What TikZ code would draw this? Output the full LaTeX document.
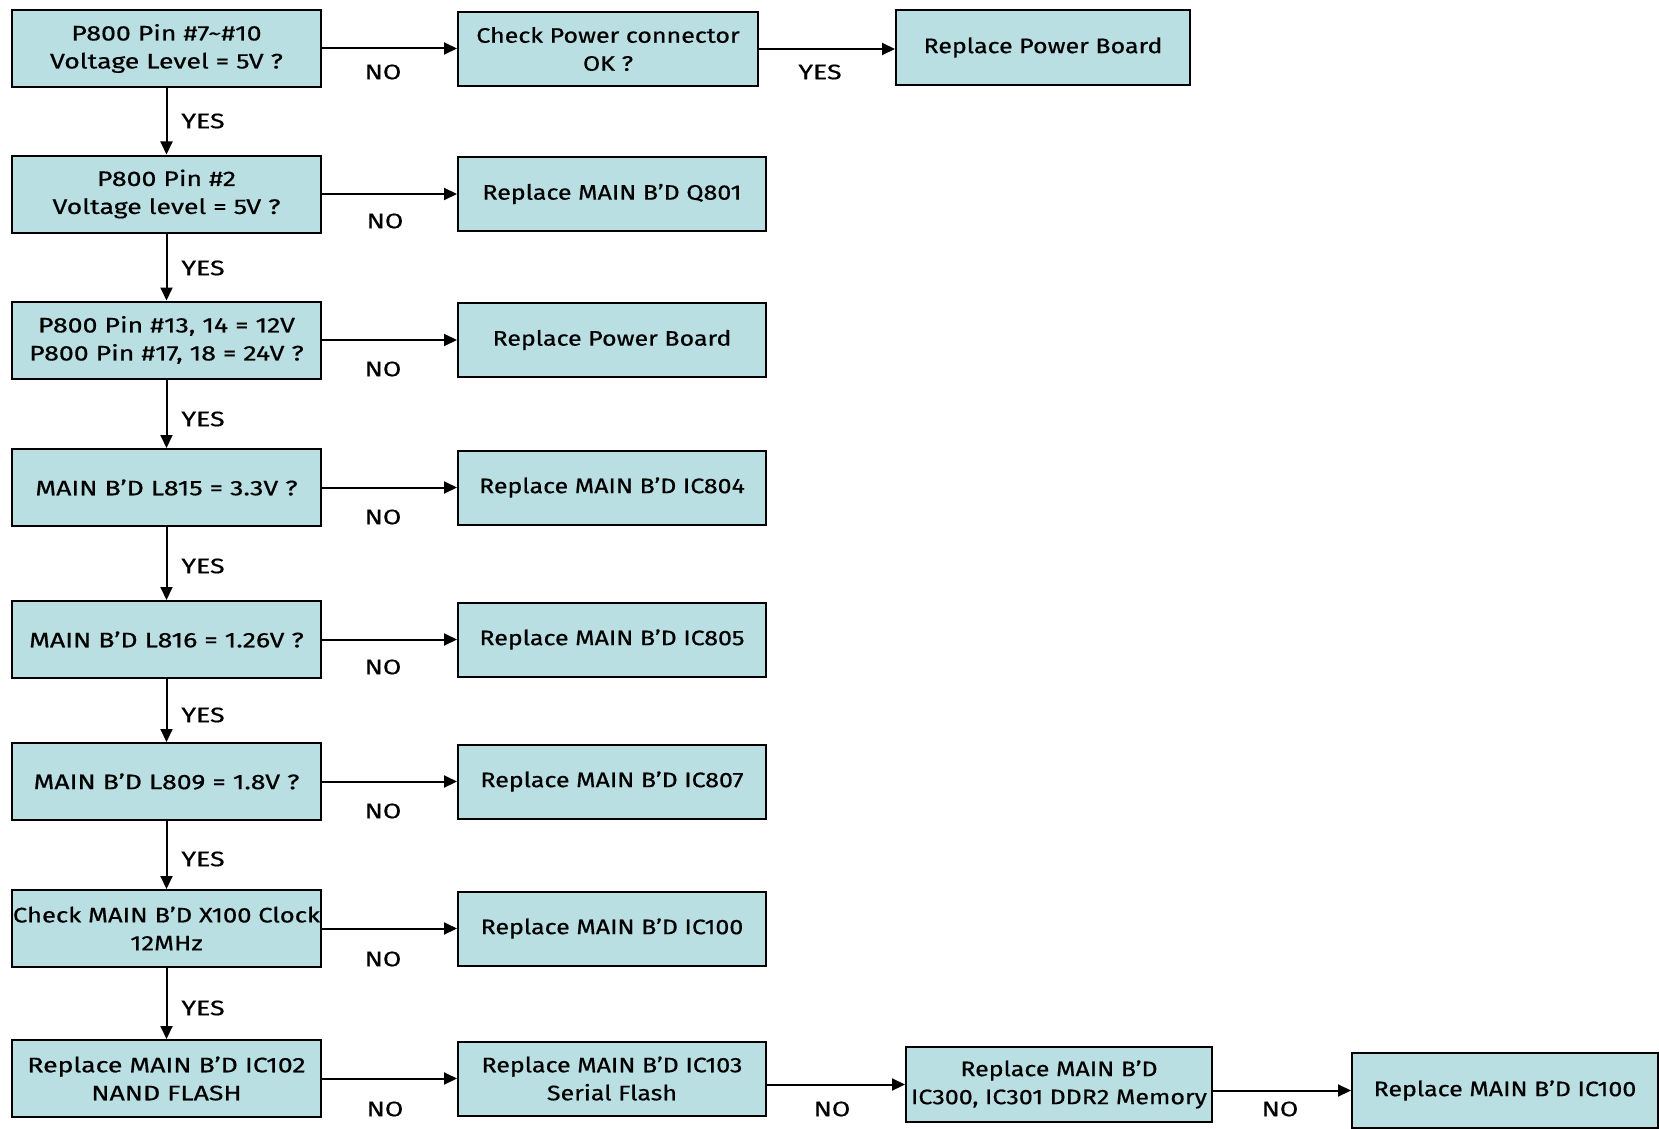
\documentclass[tikz,border=0pt]{standalone}
\usepackage{fontspec}
\setmainfont{Fira Sans}
\newfontfamily\lfont{Fira Sans}[FakeStretch=1.27, FakeBold=0.6]
\newfontfamily\cfont{Fira Sans}[FakeStretch=1.22, FakeBold=0.6]
\newfontfamily\rfont{Fira Sans}[FakeStretch=1.19, FakeBold=0.6]
\usetikzlibrary{arrows.meta}
\definecolor{boxfill}{RGB}{185,223,227}
\tikzset{
  box/.style={draw=black, fill=boxfill, line width=2pt, inner sep=0pt, align=center,
    font=\rfont\fontsize{21}{28}\selectfont},
  lbox/.style={box, minimum width=309pt, minimum height=77pt, font=\lfont\fontsize{21}{28}\selectfont},
  rbox/.style={box, minimum width=308pt, minimum height=74pt},
  conn/.style={line width=2pt, -{Triangle[length=13pt,width=12pt]}},
  lab/.style={font=\lfont\fontsize{21}{25}\selectfont, inner sep=0pt}
}
\begin{document}
\begin{tikzpicture}[x=1pt,y=-1pt]
\useasboundingbox (0,0) rectangle (1659,1129);
% left column
\node[lbox] (l1) at (166.5,48.5) {P800 Pin \#7\textasciitilde\#10\\Voltage Level = 5V ?};
\node[lbox] (l2) at (166.5,194) {P800 Pin \#2\\Voltage level = 5V ?};
\node[lbox] (l3) at (166.5,340) {P800 Pin \#13, 14 = 12V\\P800 Pin \#17, 18 = 24V ?};
\node[lbox] (l4) at (166.5,487.5) {MAIN B’D L815 = 3.3V ?};
\node[lbox] (l5) at (166.5,639.5) {MAIN B’D L816 = 1.26V ?};
\node[lbox] (l6) at (166.5,781.5) {MAIN B’D L809 = 1.8V ?};
\node[lbox, font=\cfont\fontsize{21}{28}\selectfont] (l7) at (166.5,928.5) {Check MAIN B’D X100 Clock\\12MHz};
\node[lbox] (l8) at (166.5,1078.5) {Replace MAIN B’D IC102\\NAND FLASH};
% second column
\node[box, minimum width=300pt, minimum height=74pt] (r1) at (608,49) {Check Power connector\\OK ?};
\node[rbox] (r2) at (612,194) {Replace MAIN B’D Q801};
\node[rbox] (r3) at (612,340) {Replace Power Board};
\node[rbox] (r4) at (612,487.5) {Replace MAIN B’D IC804};
\node[rbox] (r5) at (612,639.5) {Replace MAIN B’D IC805};
\node[rbox] (r6) at (612,781.5) {Replace MAIN B’D IC807};
\node[rbox] (r7) at (612,928.5) {Replace MAIN B’D IC100};
\node[rbox] (r8) at (612,1078.5) {Replace MAIN B’D IC103\\Serial Flash};
% others
\node[box, minimum width=294pt, minimum height=75pt] (t1) at (1043,47.5) {Replace Power Board};
\node[box, minimum width=306pt, minimum height=75pt] (m8) at (1059,1084.5) {Replace MAIN B’D\\IC300, IC301 DDR2 Memory};
\node[box, minimum width=306pt, minimum height=75pt] (e8) at (1505,1090.5) {Replace MAIN B’D IC100};
% vertical connectors
\foreach \a/\b in {l1/l2,l2/l3,l3/l4,l4/l5,l5/l6,l6/l7,l7/l8}
  \draw[conn] (\a.south) -- (\b.north);
% horizontal connectors
\foreach \i in {1,...,8}
  \draw[conn] (l\i.east) -- (l\i.east -| r\i.west);
\draw[conn] (r1.east) -- (r1.east -| t1.west);
\draw[conn] (m8.west -| r8.east) -- (m8.west);
\draw[conn] (e8.west -| m8.east) -- (e8.west);
% labels
\node[lab] (n1) at (383,72) {NO};
\node[lab] (y0) at (820,72) {YES};
\node[lab] (n2) at (385,221) {NO};
\node[lab] (n3) at (383,369) {NO};
\node[lab] (n4) at (383,517) {NO};
\node[lab] (n5) at (383,667) {NO};
\node[lab] (n6) at (383,811) {NO};
\node[lab] (n7) at (383,959) {NO};
\node[lab] (n8) at (385,1109) {NO};
\node[lab] (n9) at (832,1109) {NO};
\node[lab] (n10) at (1280,1109) {NO};
\node[lab] (y1) at (203,121) {YES};
\node[lab] (y2) at (203,268) {YES};
\node[lab] (y3) at (203,419) {YES};
\node[lab] (y4) at (203,566) {YES};
\node[lab] (y5) at (203,715) {YES};
\node[lab] (y6) at (203,859) {YES};
\node[lab] (y7) at (203,1008) {YES};
\end{tikzpicture}
\end{document}
